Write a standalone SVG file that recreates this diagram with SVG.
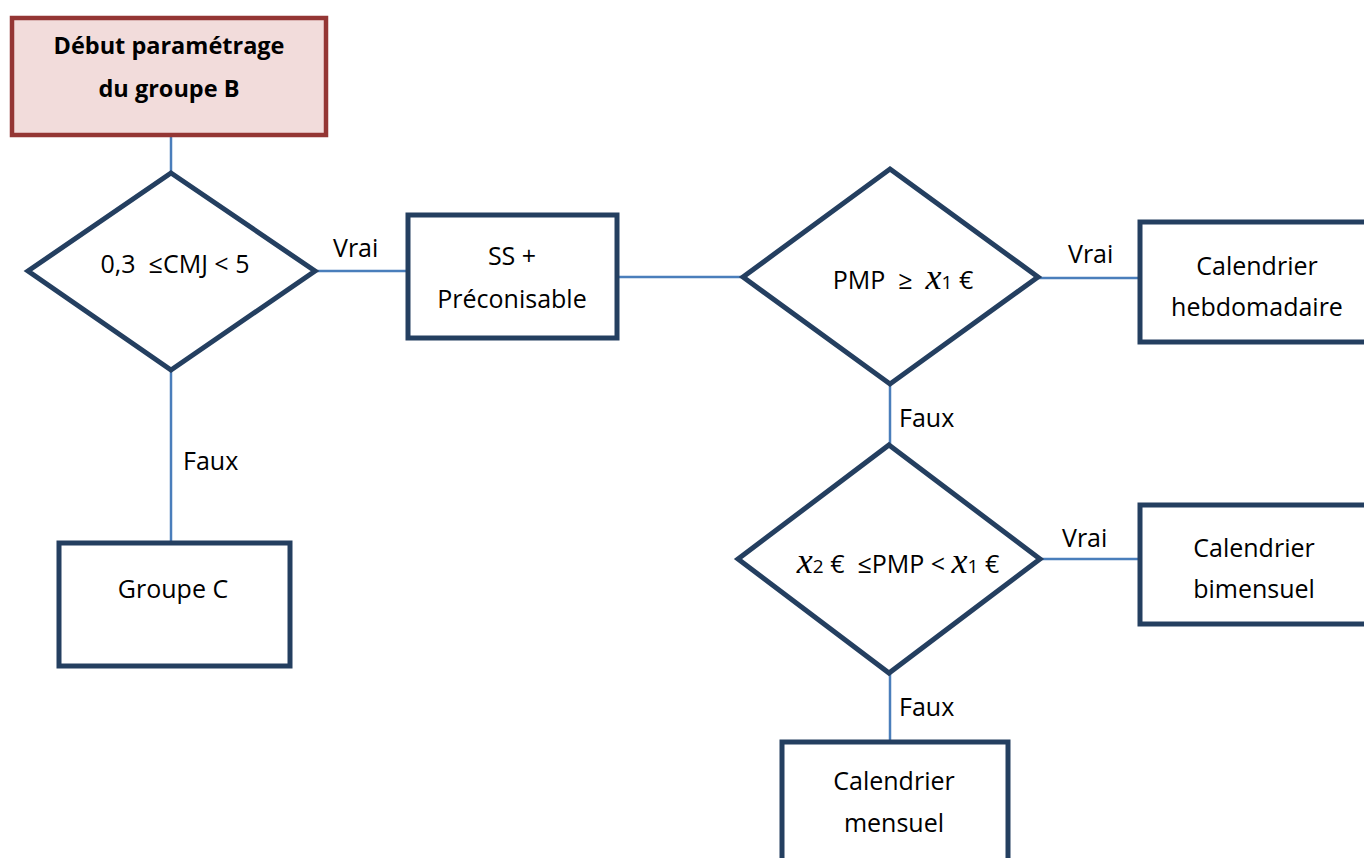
<svg xmlns="http://www.w3.org/2000/svg" width="1364" height="858" viewBox="0 0 1364 858">
<style>
.node{fill:#ffffff;stroke:#243F60;stroke-width:5}
.start{fill:#F2DCDB;stroke:#943634;stroke-width:4.5}
.conn{stroke:#4A7EBB;stroke-width:2.5;fill:none}
text{font-family:"Open Sans","Liberation Sans",sans-serif;font-size:25px;fill:#000}
.c{text-anchor:middle}
.b{font-weight:bold;font-size:23.5px}
.mx{font-family:"Liberation Serif","DejaVu Serif",serif;font-style:italic;font-size:36px}
.sub{font-size:19px}
</style>
<rect width="1364" height="858" fill="#ffffff"/>
<g id="connectors">
<line class="conn" x1="171" y1="136" x2="171" y2="173"/>
<line class="conn" x1="171" y1="370" x2="171" y2="541"/>
<line class="conn" x1="315" y1="271" x2="406" y2="271"/>
<line class="conn" x1="619" y1="277" x2="743" y2="277"/>
<line class="conn" x1="1038" y1="278" x2="1138" y2="278"/>
<line class="conn" x1="890" y1="384" x2="890" y2="445"/>
<line class="conn" x1="1040" y1="559" x2="1138" y2="559"/>
<line class="conn" x1="890" y1="673" x2="890" y2="740"/>
<text x="333" y="257">Vrai</text>
<text x="183" y="470">Faux</text>
<text x="1068" y="263">Vrai</text>
<text x="899" y="427">Faux</text>
<text x="1062" y="547">Vrai</text>
<text x="899" y="716">Faux</text>
</g>
<g id="start">
<rect class="start" x="12" y="18" width="314" height="117"/>
<text class="c b" x="169" y="54">Début paramétrage</text>
<text class="c b" x="169" y="97">du groupe B</text>
</g>
<g id="decision1">
<polygon class="node" points="171,173 315,271 171,370 28,271"/>
<text class="c" x="175" y="273">0,3&#160; ≤CMJ &lt; 5</text>
</g>
<g id="groupeC">
<rect class="node" x="59" y="543" width="231" height="123"/>
<text class="c" x="173" y="598">Groupe C</text>
</g>
<g id="ss">
<rect class="node" x="408" y="215" width="209" height="123"/>
<text class="c" x="512" y="265">SS +</text>
<text class="c" x="512" y="308">Préconisable</text>
</g>
<g id="decision2">
<polygon class="node" points="890,169 1038,277 890,384 743,277"/>
<text class="c" x="903" y="289">PMP&#160; ≥&#160; <tspan class="mx">x</tspan><tspan class="sub">1</tspan> €</text>
</g>
<g id="hebdo">
<rect class="node" x="1140" y="222" width="240" height="120"/>
<text class="c" x="1257" y="275">Calendrier</text>
<text class="c" x="1257" y="316">hebdomadaire</text>
</g>
<g id="decision3">
<polygon class="node" points="889,445 1040,559 889,673 738,559"/>
<text class="c" x="898" y="573"><tspan class="mx">x</tspan><tspan class="sub">2</tspan> €&#160; ≤PMP &lt; <tspan class="mx">x</tspan><tspan class="sub">1</tspan> €</text>
</g>
<g id="bimensuel">
<rect class="node" x="1140" y="505" width="240" height="119"/>
<text class="c" x="1254" y="557">Calendrier</text>
<text class="c" x="1254" y="598">bimensuel</text>
</g>
<g id="mensuel">
<rect class="node" x="782" y="742" width="226" height="140"/>
<text class="c" x="894" y="790">Calendrier</text>
<text class="c" x="894" y="832">mensuel</text>
</g>
</svg>
